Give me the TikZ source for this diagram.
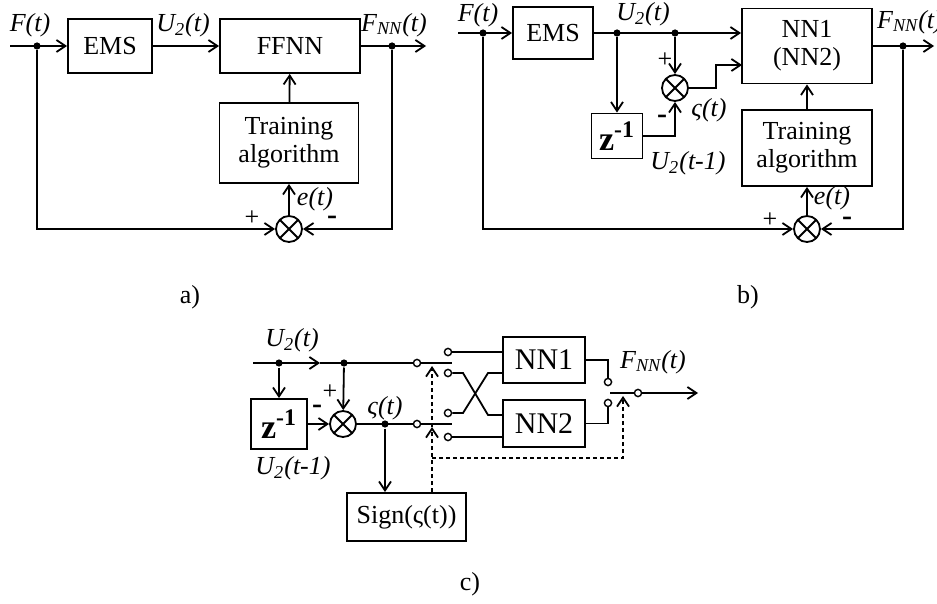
\documentclass[tikz,border=0pt]{standalone}
\usepackage{fontspec}
\setmainfont{Liberation Serif}
\usetikzlibrary{arrows.meta,positioning}

\begin{document}
\begin{tikzpicture}[
  x=0.5pt, y=-0.5pt,
  font=\fontsize{13}{14}\selectfont,
  >={Straight Barb[length=4.5pt,width=6pt]},
  line width=0.9pt,
  blk/.style={draw, align=center, inner sep=1pt},
  sumx/.style={circle, draw, minimum size=13pt, inner sep=0pt,
    path picture={\draw (path picture bounding box.north west) -- (path picture bounding box.south east)
      (path picture bounding box.north east) -- (path picture bounding box.south west);}},
  jn/.style={circle, fill, inner sep=0pt, minimum size=3.6pt},
  opn/.style={circle, draw, fill=white, inner sep=0pt, minimum size=3.6pt, line width=0.7pt},
  lbl/.style={font=\fontsize{13}{14}\selectfont\itshape, inner sep=0pt},
  sgn/.style={inner sep=0pt},
  neg/.style={inner sep=0pt, text height=3pt, text depth=0pt, font=\fontsize{15}{15}\selectfont\bfseries},
  ctrl/.style={->, dash pattern=on 2pt off 1.5pt}
]
\useasboundingbox (0,0) rectangle (937,604);

% a) FFNN trained on the error
\coordinate (ina) at (10,46);
\coordinate (outa) at (426,46);
\node[blk, minimum width=42pt, minimum height=27pt] (emsa) at (110,46) {EMS};
\node[blk, minimum width=70pt, minimum height=27pt] (ffnna) at (290,46) {FFNN};
\node[blk, minimum width=69.5pt, minimum height=40pt] (traina) at (289,143) {Training\\algorithm};
\node[sumx] (suma) at (289,229) {};
\node[jn] (fa) at (37,46) {};
\node[jn] (oa) at (392,46) {};

\draw[->] (ina) -- (emsa);
\draw[->] (emsa) -- (ffnna);
\draw[->] (ffnna) -- (outa);
\draw[->] (traina) -- (ffnna);
\draw[->] (suma) -- (traina);
\draw[->] (fa) |- (suma);
\draw[->] (oa) |- (suma);

\node[lbl] (lfa) at (30,25) {F(t)};
\node[lbl] (lua) at (183,25) {U\textsubscript{2}(t)};
\node[lbl] (loa) at (394,25) {F\textsubscript{NN}(t)};
\node[lbl] (lea) at (315,199) {e(t)};
\node[sgn] (pa) at (252,218) {+};
\node[neg] (ma) at (332,222) {-};
\node (capa) at (190,297) {a)};

% b) NN1 (NN2) with the difference input
\coordinate (inb) at (458,33);
\coordinate (outb) at (934,46);
\coordinate (nnin2) at (742,65);
\node[blk, minimum width=40pt, minimum height=26pt] (emsb) at (553,33) {EMS};
\node[blk, minimum width=65pt, minimum height=37.5pt] (nnb) at (807,46) {NN1\\(NN2)};
\node[blk, minimum width=25.5pt, minimum height=22.5pt, font=\fontsize{17}{18}\selectfont\bfseries] (zb) at (617,136) {z\textsuperscript{-1}};
\node[blk, minimum width=65pt, minimum height=38pt] (trainb) at (807,148) {Training\\algorithm};
\node[sumx] (sumb1) at (675,88) {};
\node[sumx] (sumb2) at (807,229) {};
\node[jn] (fb) at (483,33) {};
\node[jn] (ub1) at (617,33) {};
\node[jn] (ub2) at (675,33) {};
\node[jn] (ob) at (903,46) {};

\draw[->] (inb) -- (emsb);
\draw[->] (emsb.east) -- (emsb.east -| nnb.west);
\draw[->] (ub1) -- (zb);
\draw[->] (ub2) -- (sumb1);
\draw[->] (zb.east) -| (sumb1);
\draw[->] (sumb1.east) -- ++(27,0) |- (nnin2);
\draw[->] (nnb) -- (outb);
\draw[->] (trainb) -- (nnb);
\draw[->] (sumb2) -- (trainb);
\draw[->] (fb) |- (sumb2);
\draw[->] (ob) |- (sumb2);

\node[lbl] (lfb) at (478,15) {F(t)};
\node[lbl] (lub) at (643,14) {U\textsubscript{2}(t)};
\node[lbl] (lob) at (910,22) {F\textsubscript{NN}(t)};
\node[lbl] (lsb) at (709,110) {ς(t)};
\node[lbl] (lzb) at (688,163) {U\textsubscript{2}(t-1)};
\node[lbl] (leb) at (832,198) {e(t)};
\node[sgn] (pb1) at (665,60) {+};
\node[neg] (mb1) at (662,121) {-};
\node[sgn] (pb2) at (770,220) {+};
\node[neg] (mb2) at (847,223) {-};
\node (capb) at (748,297) {b)};

% c) switching between NN1 and NN2
\coordinate (inc) at (253,363);
\coordinate (midc) at (320,363);
\coordinate (outc) at (698,393);
\coordinate (bladeo) at (610,393);
\coordinate (dsh) at (432,458);
\coordinate (t1) at (432,366);
\coordinate (t2) at (432,427);
\coordinate (t3) at (623,396);
\node[blk, minimum width=28pt, minimum height=25pt, font=\fontsize{17}{18}\selectfont\bfseries] (zc) at (279,424) {z\textsuperscript{-1}};
\node[sumx] (sumc) at (343,424) {};
\node[blk, minimum width=59.5pt, minimum height=24pt] (sign) at (406.5,517) {Sign(ς(t))};
\node[blk, minimum width=41pt, minimum height=23pt, font=\fontsize{15}{16}\selectfont] (nn1) at (544,360) {NN1};
\node[blk, minimum width=41pt, minimum height=23.5pt, font=\fontsize{15}{16}\selectfont] (nn2) at (544,423.5) {NN2};
\node[jn] (uc1) at (279,363) {};
\node[jn] (uc2) at (344,363) {};
\node[jn] (sc) at (385,424) {};
\node[opn] (sw1) at (417,363) {};
\node[opn] (sw2) at (417,424) {};
\node[opn] (k1) at (448,352) {};
\node[opn] (k2) at (448,373) {};
\node[opn] (k3) at (448,413) {};
\node[opn] (k4) at (448,437) {};
\node[opn] (k5) at (608,382) {};
\node[opn] (k6) at (608,403) {};
\node[opn] (swo) at (638,393) {};

\draw[->] (inc) -- (midc);
\draw (midc) -- (sw1);
\draw[->] (uc1) -- (zc);
\draw[->] (uc2) -- (sumc);
\draw[->] (zc) -- (sumc);
\draw (sumc) -- (sw2);
\draw[->] (sc) -- (sc |- sign.north);
\draw (sw1.east) -- ++(31,0);
\draw (sw2.east) -- ++(31,0);
\draw (k1) -- (k1 -| nn1.west);
\draw (k2) -- ++(15,0) -- ++(25,42) -- ++(15,0);
\draw (k3) -- ++(15,0) -- ++(25,-40) -- ++(15,0);
\draw (k4) -- (k4 -| nn2.west);
\draw (nn1.east) -| (k5);
\draw (nn2.east) -| (k6);
\draw (bladeo) -- (swo);
\draw[->] (swo) -- (outc);
\draw[ctrl] (sign.north -| dsh) -- (t2);
\draw[ctrl] (t2) -- (t1);
\draw[ctrl] (dsh) -| (t3);

\node[lbl] (luc) at (292,340) {U\textsubscript{2}(t)};
\node[lbl] (lzc) at (293,468) {U\textsubscript{2}(t-1)};
\node[lbl] (lsc) at (385,408) {ς(t)};
\node[lbl] (loc) at (653,362) {F\textsubscript{NN}(t)};
\node[sgn] (pc) at (330,392) {+};
\node[neg] (mc) at (317,410) {-};
\node (capc) at (470,584) {c)};

\end{tikzpicture}
\end{document}
